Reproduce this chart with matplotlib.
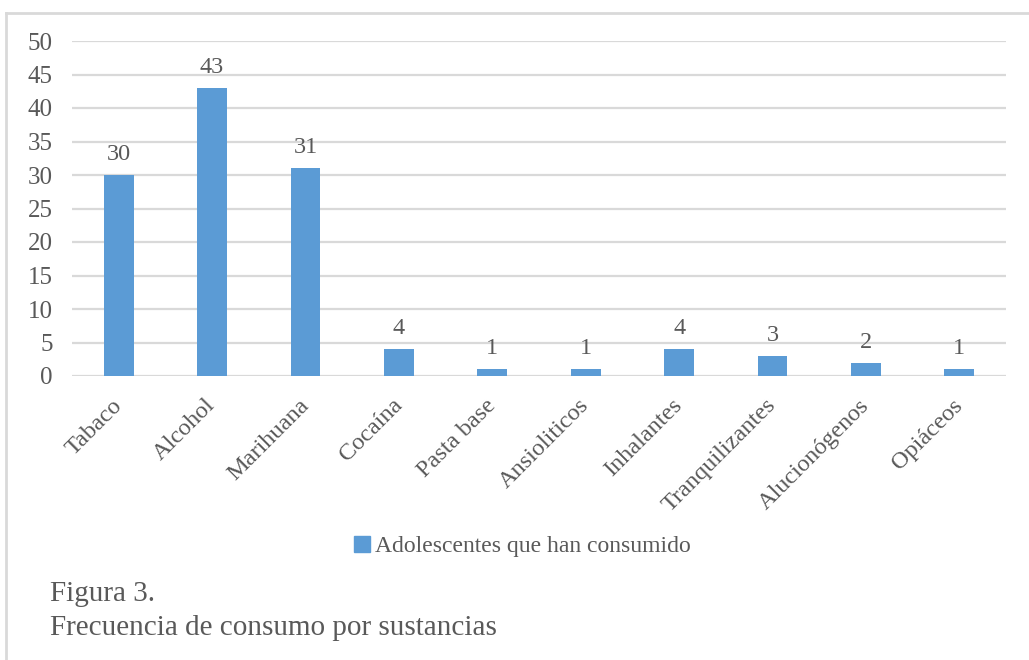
import matplotlib
matplotlib.use("Agg")
import matplotlib.pyplot as plt
from matplotlib.lines import Line2D

categories = ["Tabaco", "Alcohol", "Marihuana", "Cocaína", "Pasta base",
              "Ansioliticos", "Inhalantes", "Tranquilizantes", "Alucionógenos", "Opiáceos"]
values = [30, 43, 31, 4, 1, 1, 4, 3, 2, 1]
y_ticks = [0, 5, 10, 15, 20, 25, 30, 35, 40, 45, 50]
series_name = "Adolescentes que han consumido"
caption = ["Figura 3.", "Frecuencia de consumo por sustancias"]

BAR = "#5b9bd5"
TXT = "#595959"
GRID = "#d9d9d9"

plt.rcParams["font.family"] = ["Liberation Serif", "DejaVu Serif"]

fig = plt.figure(figsize=(10.29, 6.6), dpi=100)
ax = fig.add_axes([72 / 1029, 1 - 376 / 660, (1006 - 72) / 1029, (376 - 41) / 660])

x = list(range(len(categories)))
ax.bar(x, values, width=0.32, color=BAR, zorder=3)
for xi, v in zip(x, values):
    ax.text(xi, v + 1.5, str(v), ha="center", va="bottom", fontsize=17.5, color=TXT)

ax.set_xlim(-0.5, len(categories) - 0.5)
ax.set_ylim(0, 50)
ax.set_yticks(y_ticks)
ax.yaxis.grid(True, color=GRID, linewidth=1.6, zorder=0)
ax.set_axisbelow(True)
for s in ax.spines.values():
    s.set_visible(False)
ax.tick_params(axis="both", length=0, colors=TXT)
ax.tick_params(axis="y", pad=14, labelsize=18)
ax.set_xticks(x)
ax.set_xticklabels(categories, rotation=45, ha="right", va="center",
                   rotation_mode="anchor", fontsize=17.5, color=TXT)
ax.tick_params(axis="x", pad=19)

# legend
handle = Line2D([], [], marker="s", linestyle="none", markersize=11,
                markerfacecolor=BAR, markeredgecolor=BAR)
fig.legend([handle], [series_name], loc="center", bbox_to_anchor=(522 / 1029, 1 - 546 / 660),
           frameon=False, fontsize=17, labelcolor=TXT, handletextpad=0.15,
           handlelength=0.8)

# caption
fig.text(50 / 1029, 1 - 594 / 660, caption[0], fontsize=21, color=TXT, va="center")
fig.text(50 / 1029, 1 - 628 / 660, caption[1], fontsize=21, color=TXT, va="center")

# outer frame
fig.add_artist(Line2D([6 / 1029, 1.0], [1 - 13 / 660] * 2, color=GRID, linewidth=2,
                      transform=fig.transFigure))
fig.add_artist(Line2D([6 / 1029] * 2, [0, 1 - 13 / 660], color=GRID, linewidth=2,
                      transform=fig.transFigure))

fig.savefig("out.png", dpi=100, facecolor="white")
